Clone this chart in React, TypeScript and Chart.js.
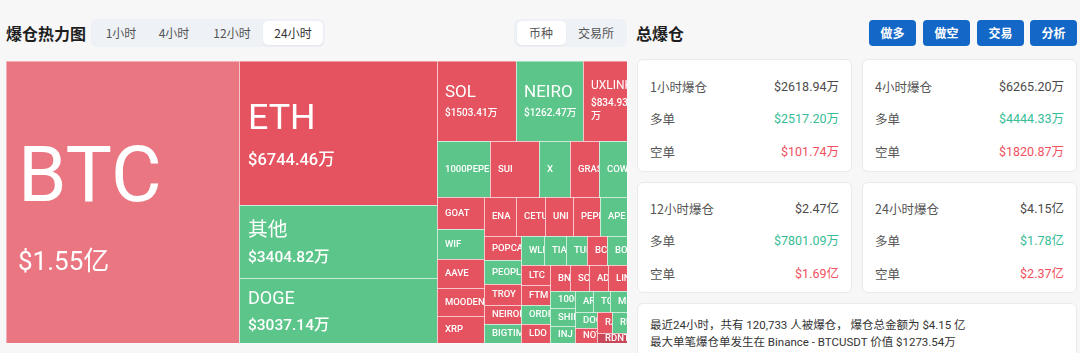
import React, { useEffect, useRef } from "react";
import { Chart, registerables } from "chart.js";
Chart.register(...registerables);

// ---------- DATA ----------
const coins = [
  "BTC", "ETH", "其他", "DOGE", "SOL", "NEIRO", "UXLINK",
  "1000PEPE", "SUI", "X", "GRASS", "COW",
  "GOAT", "WIF", "AAVE", "MOODENG", "XRP",
  "ENA", "CETUS", "UNI", "PEPE", "APE",
  "POPCAT", "PEOPLE", "TROY", "NEIROETH", "BIGTIME",
  "WLD", "TIA", "TURBO", "BCH", "BOME",
  "LTC", "FTM", "ORDI", "LDO",
  "BNB", "SCR", "ADA", "LINK",
  "1000SATS", "SHIB", "INJ",
  "ARB", "TON", "MEME",
  "DOGS", "NOT",
  "RAY", "RUNE", "RDNT",
];
// liquidation amount, in 万 USD
const liqValues = [
  15500, 6744.46, 3404.82, 3037.14, 1503.41, 1262.47, 834.93,
  700, 650, 402, 386, 372,
  346, 340, 316, 312, 301,
  291, 263, 256, 251, 244,
  213, 208, 184, 168, 165,
  158, 150, 146, 142, 138,
  136, 134, 132, 130,
  120, 113, 112, 111,
  104, 102, 100,
  90, 88, 86,
  82, 80,
  74, 72, 70,
];
// share of the liquidations that were shorts (red) vs longs (green)
const shortShare = [
  0.6, 0.8, 0.25, 0.2, 0.8, 0.2, 0.8,
  0.2, 0.8, 0.2, 0.8, 0.2,
  0.8, 0.2, 0.8, 0.8, 0.8,
  0.8, 0.8, 0.8, 0.8, 0.2,
  0.8, 0.2, 0.8, 0.8, 0.2,
  0.2, 0.2, 0.2, 0.8, 0.2,
  0.8, 0.8, 0.2, 0.8,
  0.8, 0.8, 0.8, 0.8,
  0.2, 0.2, 0.2,
  0.2, 0.2, 0.2,
  0.2, 0.8,
  0.8, 0.2, 0.97,
];

const timeTabs = ["1小时", "4小时", "12小时", "24小时"];
const viewTabs = ["币种", "交易所"];
const actionButtons = ["做多", "做空", "交易", "分析"];
const periodLabels = ["1小时爆仓", "4小时爆仓", "12小时爆仓", "24小时爆仓"];
const periodTotals = [2618.94, 6265.2, 24700, 41500];
const periodLongs = [2517.2, 4444.33, 7801.09, 17800];
const periodShorts = [101.74, 1820.87, 16900, 23700];
const summaryLine1 = "最近24小时，共有 120,733 人被爆仓， 爆仓总金额为 $4.15 亿";
const summaryLine2 = "最大单笔爆仓单发生在 Binance - BTCUSDT 价值 $1273.54万";

// ---------- STYLE ----------
const TREE_FONT = "Roboto, 'Noto Sans CJK SC', sans-serif";
const CN_FONT = "'Noto Sans CJK SC', 'Noto Sans', sans-serif";
const NUM_FONT = "Roboto, 'Noto Sans CJK SC', sans-serif";
const GREEN = "#36BD96";
const RED = "#F2505E";
const MAP_W = 621;
const MAP_H = 282;

function fmtMoney(v: number) {
  return v >= 10000 ? `$${(v / 10000).toFixed(2)}亿` : `$${v.toFixed(2)}万`;
}

function colorFor(s: number) {
  if (s < 0.5) return "#5CC68A";
  if (s < 0.7) return "#EA7682";
  if (s > 0.95) return "#C8485A";
  return "#E4535F";
}

type R = { x: number; y: number; width: number; height: number };

// squarified treemap (same rules as ECharts, golden ratio target)
function squarify(vals: number[], W: number, H: number): R[] {
  const ratio = 0.5 * (1 + Math.sqrt(5));
  const total = vals.reduce((a, b) => a + b, 0);
  const order = vals.map((_, i) => i).sort((a, b) => vals[b] - vals[a]);
  const areas = order.map((i) => (vals[i] / total) * W * H);
  const out: R[] = new Array(vals.length);
  const rect = { x: 0, y: 0, width: W, height: H };
  const worst = (row: number[], ra: number, L: number) => {
    let mx = 0, mn = Infinity;
    for (const k of row) {
      const a = areas[k];
      if (a < mn) mn = a;
      if (a > mx) mx = a;
    }
    const sq = ra * ra;
    const f = L * L * ratio;
    return sq ? Math.max((f * mx) / sq, sq / (f * mn)) : Infinity;
  };
  const position = (row: number[], ra: number, L: number, flush: boolean) => {
    const horiz = L === rect.width;
    let last = horiz ? rect.x : rect.y;
    let other = L ? ra / L : 0;
    const avail = horiz ? rect.height : rect.width;
    if (flush || other > avail) other = avail;
    for (let j = 0; j < row.length; j++) {
      const k = row[j];
      const step = other ? areas[k] / other : 0;
      const remain = (horiz ? rect.x + rect.width : rect.y + rect.height) - last;
      const mod = j === row.length - 1 || remain < step ? remain : step;
      out[order[k]] = horiz
        ? { x: last, y: rect.y, width: mod, height: other }
        : { x: rect.x, y: last, width: other, height: mod };
      last += mod;
    }
    if (horiz) {
      rect.y += other;
      rect.height -= other;
    } else {
      rect.x += other;
      rect.width -= other;
    }
  };
  let fixed = Math.min(W, H);
  let best = Infinity;
  let row: number[] = [];
  let rowArea = 0;
  for (let i = 0; i < order.length; ) {
    row.push(i);
    rowArea += areas[i];
    const score = worst(row, rowArea, fixed);
    if (score <= best) {
      i++;
      best = score;
    } else {
      row.pop();
      rowArea -= areas[i];
      position(row, rowArea, fixed, false);
      fixed = Math.min(rect.width, rect.height);
      row = [];
      rowArea = 0;
      best = Infinity;
    }
  }
  if (row.length) position(row, rowArea, fixed, true);
  return out;
}

type Box = { x0: number; x1: number; y0: number; y1: number; i: number };

function drawLabel(ctx: CanvasRenderingContext2D, b: Box) {
  const i = b.i;
  const v = liqValues[i];
  const w = b.x1 - b.x0;
  const h = b.y1 - b.y0;
  ctx.save();
  ctx.beginPath();
  ctx.rect(b.x0 + 1, b.y0 + 1, w - 1, h - 1);
  ctx.clip();
  ctx.fillStyle = "#ffffff";
  ctx.textBaseline = "middle";
  ctx.textAlign = "left";
  const showValue = w >= 40 && h >= 60;
  const pad = v >= 10000 ? 12 : v >= 2000 ? 9 : 8;
  const cx = b.x0 + pad;
  const cy = (b.y0 + b.y1) / 2;
  if (!showValue) {
    ctx.font = `500 9.5px ${TREE_FONT}`;
    ctx.fillText(coins[i], cx, cy + 0.5);
  } else {
    const nameSize = v >= 2000 ? 3.4 + 0.00481 * v : v >= 1000 ? 17 : 12;
    const valSize = v >= 10000 ? 26 : v >= 5000 ? 16.5 : v >= 2000 ? 15.5 : 10;
    const valWeight = v >= 10000 ? 400 : 500;
    const txt = fmtMoney(v);
    ctx.font = `${valWeight} ${valSize}px ${TREE_FONT}`;
    const tokens = txt.match(/[\x00-\xff]+|./g) || [txt];
    const maxW = w - pad;
    const lines: string[] = [];
    let cur = "";
    for (const t of tokens) {
      if (cur && ctx.measureText(cur + t).width > maxW) {
        lines.push(cur);
        cur = t;
      } else cur += t;
    }
    lines.push(cur);
    const gap = 0.8 * nameSize + 0.75 * valSize;
    const lh = valSize * 1.35;
    const span = gap + (lines.length - 1) * lh;
    const mid = cy + Math.max(0, 0.3 * nameSize - 3);
    const nameY = mid - span / 2;
    lines.forEach((ln, k) => ctx.fillText(ln, cx, nameY + gap + k * lh));
    ctx.font = `400 ${nameSize}px ${TREE_FONT}`;
    ctx.fillText(coins[i], cx, nameY);
  }
  ctx.restore();
}

function Treemap() {
  const ref = useRef<HTMLCanvasElement>(null);
  useEffect(() => {
    const canvas = ref.current!;
    const rects = squarify(liqValues, MAP_W, MAP_H);
    const plugin = {
      id: "treemapCells",
      afterDatasetsDraw(chart: any) {
        const ctx: CanvasRenderingContext2D = chart.ctx;
        const xs = chart.scales.x;
        const ys = chart.scales.y;
        const boxes: Box[] = rects.map((r, i) => ({
          x0: Math.round(xs.getPixelForValue(r.x)),
          x1: Math.round(xs.getPixelForValue(r.x + r.width)),
          y0: Math.round(ys.getPixelForValue(r.y)),
          y1: Math.round(ys.getPixelForValue(r.y + r.height)),
          i,
        }));
        ctx.save();
        for (const b of boxes) {
          ctx.fillStyle = colorFor(shortShare[b.i]);
          ctx.fillRect(b.x0, b.y0, b.x1 - b.x0, b.y1 - b.y0);
        }
        ctx.strokeStyle = "rgba(255,255,255,0.42)";
        ctx.lineWidth = 1;
        for (const b of boxes) ctx.strokeRect(b.x0 + 0.5, b.y0 + 0.5, b.x1 - b.x0, b.y1 - b.y0);
        for (const b of boxes) drawLabel(ctx, b);
        ctx.restore();
      },
    };
    const chart = new Chart(canvas, {
      type: "scatter",
      data: {
        datasets: [
          {
            data: rects.map((r) => ({ x: r.x + r.width / 2, y: r.y + r.height / 2 })),
            pointRadius: 0,
          },
        ],
      },
      options: {
        animation: false,
        responsive: false,
        maintainAspectRatio: false,
        events: [],
        layout: { padding: 0 },
        plugins: { legend: { display: false }, tooltip: { enabled: false } },
        scales: {
          x: { type: "linear", display: false, min: 0, max: MAP_W + 1 },
          y: { type: "linear", display: false, min: 0, max: MAP_H + 1, reverse: true },
        },
      },
      plugins: [plugin],
    } as any);
    return () => chart.destroy();
  }, []);
  return (
    <canvas
      ref={ref}
      width={MAP_W + 1}
      height={MAP_H + 1}
      style={{ position: "absolute", left: 6, top: 61, width: MAP_W + 1, height: MAP_H + 1 }}
    />
  );
}

const tabCenters = [30, 83, 141, 202];
const viewCenters = [27, 82];
const buttonLefts = [869, 923, 977, 1030];

export default function App() {
  return (
    <div
      style={{
        position: "fixed",
        left: 0,
        top: 0,
        width: 1080,
        height: 353,
        background: "#F7F7F7",
        overflow: "hidden",
        fontFamily: CN_FONT,
      }}
    >
      <div style={{ position: "absolute", left: 6, top: 23, fontSize: 16, fontWeight: 700, lineHeight: "20px", color: "#1e1e1e" }}>
        爆仓热力图
      </div>
      <div style={{ position: "absolute", left: 91, top: 19, width: 234, height: 28, background: "#EEF1F5", borderRadius: 6 }}>
        <div style={{ position: "absolute", left: 172, top: 2, width: 60, height: 24, background: "#fff", borderRadius: 5, boxShadow: "0 1px 2px rgba(0,0,0,0.06)" }} />
        {timeTabs.map((t, i) => (
          <div key={t} style={{ position: "absolute", left: tabCenters[i] - 30, width: 60, top: 0, height: 28, lineHeight: "28px", textAlign: "center", fontSize: 12, color: i === 3 ? "#333" : "#555" }}>
            {t}
          </div>
        ))}
      </div>
      <div style={{ position: "absolute", left: 514, top: 19, width: 113, height: 28, background: "#EEF1F5", borderRadius: 6 }}>
        <div style={{ position: "absolute", left: 3, top: 2, width: 49, height: 24, background: "#fff", borderRadius: 5, boxShadow: "0 1px 2px rgba(0,0,0,0.06)" }} />
        {viewTabs.map((t, i) => (
          <div key={t} style={{ position: "absolute", left: viewCenters[i] - 25, width: 50, top: 0, height: 28, lineHeight: "28px", textAlign: "center", fontSize: 12, color: "#555" }}>
            {t}
          </div>
        ))}
      </div>

      <Treemap />

      <div style={{ position: "absolute", left: 636, top: 23, fontSize: 16, fontWeight: 700, lineHeight: "20px", color: "#1e1e1e" }}>
        总爆仓
      </div>
      {actionButtons.map((t, i) => (
        <div key={t} style={{ position: "absolute", left: buttonLefts[i], top: 20, width: 47, height: 26, lineHeight: "26px", textAlign: "center", background: "#1367C6", borderRadius: 4, color: "#fff", fontSize: 12, fontWeight: 700 }}>
          {t}
        </div>
      ))}

      {periodLabels.map((lab, i) => {
        const left = i % 2 ? 862 : 637;
        const top = i < 2 ? 59 : 182;
        const h = i < 2 ? 113 : 111;
        const centers = i < 2 ? [27, 59, 92] : [26, 58, 91];
        const rows = [
          { l: lab, v: fmtMoney(periodTotals[i]), c: "#4a4a4a" },
          { l: "多单", v: fmtMoney(periodLongs[i]), c: GREEN },
          { l: "空单", v: fmtMoney(periodShorts[i]), c: RED },
        ];
        return (
          <div key={lab} style={{ position: "absolute", left, top, width: 215, height: h, background: "#fff", border: "1px solid #EAEAEA", borderRadius: 6, boxSizing: "border-box" }}>
            {rows.map((r, k) => (
              <React.Fragment key={k}>
                <div style={{ position: "absolute", left: 12, top: centers[k] - 10, lineHeight: "20px", fontSize: 12.5, color: "#555" }}>{r.l}</div>
                <div style={{ position: "absolute", right: 12, top: centers[k] - 10, lineHeight: "20px", fontSize: 12.5, color: r.c, fontFamily: NUM_FONT, fontWeight: 400 }}>{r.v}</div>
              </React.Fragment>
            ))}
          </div>
        );
      })}

      <div style={{ position: "absolute", left: 637, top: 303, width: 440, height: 70, background: "#fff", border: "1px solid #EAEAEA", borderRadius: 6, boxSizing: "border-box" }}>
        <div style={{ position: "absolute", left: 12, top: 13, lineHeight: "17px", fontSize: 11.5, color: "#333", fontFamily: NUM_FONT, whiteSpace: "nowrap" }}>
          {summaryLine1}
          <br />
          {summaryLine2}
        </div>
      </div>
    </div>
  );
}
